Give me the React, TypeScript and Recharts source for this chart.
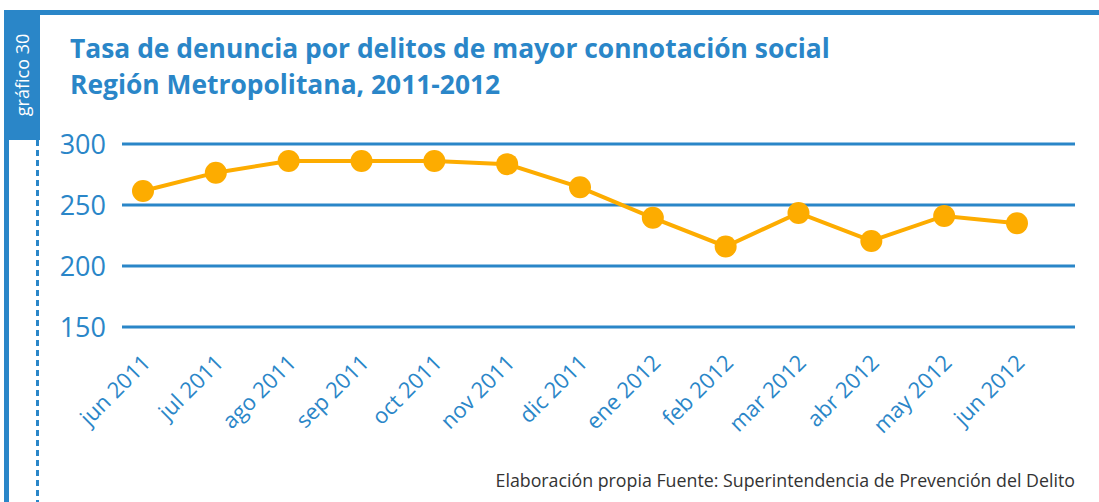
import React from 'react';
import { LineChart, Line, XAxis, YAxis, CartesianGrid } from 'recharts';

const months = ['jun 2011', 'jul 2011', 'ago 2011', 'sep 2011', 'oct 2011', 'nov 2011', 'dic 2011', 'ene 2012', 'feb 2012', 'mar 2012', 'abr 2012', 'may 2012', 'jun 2012'];
const tasa = [261.5, 276.5, 286, 286, 286, 283.5, 264.5, 239.5, 216, 243.5, 220.5, 241, 235];
const yTicks = [150, 200, 250, 300];

const titleLines = ['Tasa de denuncia por delitos de mayor connotación social', 'Región Metropolitana, 2011-2012'];
const tabLabel = 'gráfico 30';
const footer = 'Elaboración propia Fuente: Superintendencia de Prevención del Delito';

const data = months.map((m, i) => ({ mes: m, tasa: tasa[i] }));

const BLUE = '#2A86C8';
const ORANGE = '#FDAC00';
const FONT = '"Open Sans", sans-serif';

const XTick = (props: any) => {
  const { x, y, payload } = props;
  const ax = x + 9;
  const ay = y + 29;
  return (
    <text
      x={ax}
      y={ay}
      transform={`rotate(-45 ${ax} ${ay})`}
      textAnchor="end"
      fill={BLUE}
      fontSize={22}
      fontFamily={FONT}
    >
      {payload.value}
    </text>
  );
};

export default function App() {
  return (
    <div style={{ position: 'absolute', left: 0, top: 0, width: 1099, height: 502, background: '#fff', overflow: 'hidden' }}>
      <svg width={1099} height={502} style={{ position: 'absolute', left: 0, top: 0 }}>
        <rect x={4} y={10} width={1095} height={5} fill={BLUE} />
        <rect x={4} y={10} width={5} height={492} fill={BLUE} />
        <rect x={4} y={10} width={36} height={130} fill={BLUE} />
        <line x1={37.5} y1={140} x2={37.5} y2={502} stroke={BLUE} strokeWidth={3} strokeDasharray="6 4" />
        <text
          x={22}
          y={75}
          transform="rotate(-90 22 75)"
          textAnchor="middle"
          dominantBaseline="central"
          fill="#fff"
          fontSize={18}
          fontFamily={FONT}
        >
          {tabLabel}
        </text>
        <text x={70} y={58} fill={BLUE} fontSize={26.4} fontWeight={700} fontFamily={FONT}>
          {titleLines[0]}
        </text>
        <text x={70} y={94} fill={BLUE} fontSize={26.4} fontWeight={700} fontFamily={FONT}>
          {titleLines[1]}
        </text>
        <text x={1075} y={487} textAnchor="end" fill="#333" fontSize={17.8} fontFamily={FONT}>
          {footer}
        </text>
      </svg>
      <div style={{ position: 'absolute', left: 0, top: 0 }}>
        <LineChart width={1099} height={502} data={data} margin={{ top: 144, right: 24, bottom: 0, left: 2 }}>
          <CartesianGrid horizontal vertical={false} stroke={BLUE} strokeWidth={3} />
          <XAxis
            dataKey="mes"
            height={175}
            padding={{ left: 21, right: 58 }}
            axisLine={false}
            tickLine={false}
            tick={<XTick />}
            interval={0}
          />
          <YAxis
            domain={[150, 300]}
            ticks={yTicks}
            width={120}
            axisLine={false}
            tickLine={false}
            tickSize={0}
            tickMargin={16}
            tick={{ fill: BLUE, fontSize: 27, fontFamily: FONT }}
          />
          <Line
            dataKey="tasa"
            stroke={ORANGE}
            strokeWidth={4}
            dot={{ r: 11, fill: ORANGE, stroke: ORANGE, strokeWidth: 0 }}
            isAnimationActive={false}
          />
        </LineChart>
      </div>
    </div>
  );
}
